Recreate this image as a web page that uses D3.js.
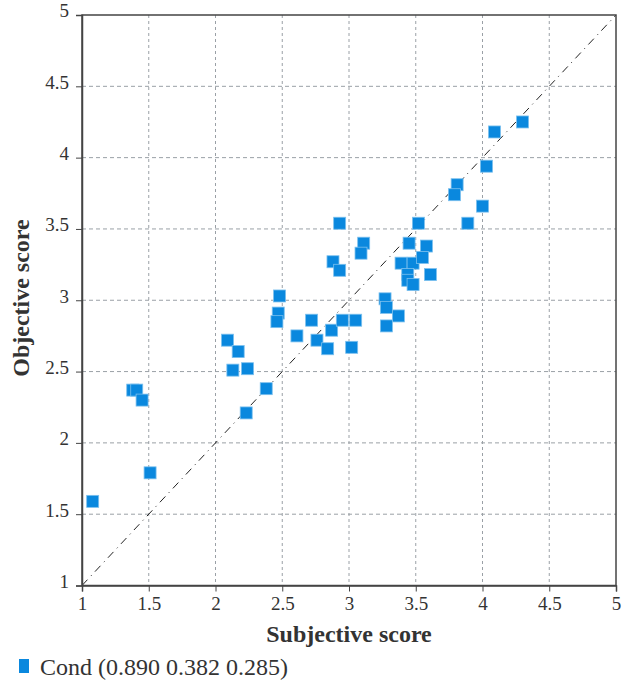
<!DOCTYPE html>
<html>
<head>
<meta charset="utf-8">
<script src="https://cdnjs.cloudflare.com/ajax/libs/d3/7.8.5/d3.min.js"></script>
<style>
	body { margin: 0; background: #fff; }
</style>
</head>
<body>
<svg id="chart" width="630" height="684"></svg>
<script>
// subjective (x) and objective (y) scores
const subjective = [
	1.08, 1.38, 1.41, 1.45, 1.51,
	2.09, 2.17, 2.13, 2.24, 2.38, 2.23,
	2.48, 2.47, 2.46, 2.61, 2.72, 2.76, 2.87, 2.84, 2.95, 3.05, 3.02,
	2.93, 3.11, 3.09, 2.88, 2.93,
	3.52, 3.45, 3.58, 3.39, 3.48, 3.55, 3.44, 3.44, 3.48, 3.61,
	3.27, 3.28, 3.37, 3.28,
	4.30, 4.09, 4.03, 3.81, 3.79, 4.00, 3.89
]
const objective = [
	1.59, 2.37, 2.37, 2.30, 1.79,
	2.72, 2.64, 2.51, 2.52, 2.38, 2.21,
	3.03, 2.91, 2.85, 2.75, 2.86, 2.72, 2.79, 2.66, 2.86, 2.86, 2.67,
	3.54, 3.40, 3.33, 3.27, 3.21,
	3.54, 3.40, 3.38, 3.26, 3.26, 3.30, 3.18, 3.14, 3.11, 3.18,
	3.01, 2.95, 2.89, 2.82,
	4.25, 4.18, 3.94, 3.81, 3.74, 3.66, 3.54
]
const ticks = [1, 1.5, 2, 2.5, 3, 3.5, 4, 4.5, 5]
const legendLabel = 'Cond (0.890 0.382 0.285)'

const blue = '#0a88de'
const serif = "'Liberation Serif', 'DejaVu Serif', serif"

const svg = d3.select('#chart')
const m = { left: 82, right: 616, top: 15, bottom: 585.5 }

const x = d3.scaleLinear().domain([1, 5]).range([m.left, m.right])
const y = d3.scaleLinear().domain([1, 5]).range([m.bottom, m.top])

// grid
const grid = svg.append('g')
grid.selectAll('line.v')
	.data(ticks.slice(1, -1))
	.enter()
	.append('line')
	.attr('x1', d => x(d)).attr('x2', d => x(d))
	.attr('y1', m.top).attr('y2', m.bottom)
	.attr('stroke', '#9aa0a6')
	.attr('stroke-dasharray', '3,3')
grid.selectAll('line.h')
	.data(ticks.slice(1, -1))
	.enter()
	.append('line')
	.attr('x1', m.left).attr('x2', m.right)
	.attr('y1', d => y(d)).attr('y2', d => y(d))
	.attr('stroke', '#9aa0a6')
	.attr('stroke-dasharray', '4,3')

// diagonal y = x
svg.append('line')
	.attr('x1', x(1)).attr('y1', y(1))
	.attr('x2', x(5)).attr('y2', y(5))
	.attr('stroke', '#222')
	.attr('stroke-width', 1)
	.attr('stroke-dasharray', '8,5,1,5')

// points
const pts = subjective.map((d, i) => ({ x: d, y: objective[i] }))
const size = 12
svg.append('g')
	.selectAll('rect')
	.data(pts)
	.enter()
	.append('rect')
	.attr('x', d => x(d.x) - size / 2)
	.attr('y', d => y(d.y) - size / 2)
	.attr('width', size)
	.attr('height', size)
	.attr('fill', blue)
	.attr('stroke', '#7cc0ee')
	.attr('stroke-width', 0.8)

// frame
svg.append('rect')
	.attr('x', m.left).attr('y', m.top)
	.attr('width', m.right - m.left).attr('height', m.bottom - m.top)
	.attr('fill', 'none')
	.attr('stroke', '#444')
	.attr('stroke-width', 1.5)

const fmt = d => String(d)

svg.append('g')
	.attr('transform', `translate(0,${m.bottom})`)
	.call(d3.axisBottom(x).tickValues(ticks).tickFormat(fmt).tickSize(6).tickPadding(5))
	.attr('font-family', serif)
	.attr('font-size', 19)
	.call(g => g.select('.domain').attr('stroke', '#444').attr('stroke-width', 1.5))
	.call(g => g.selectAll('.tick line').attr('stroke', '#444'))
	.call(g => g.selectAll('.tick text').attr('fill', '#333'))

svg.append('g')
	.attr('transform', `translate(${m.left},0)`)
	.call(d3.axisLeft(y).tickValues(ticks).tickFormat(fmt).tickSize(6).tickPadding(7))
	.attr('font-family', serif)
	.attr('font-size', 19)
	.call(g => g.select('.domain').attr('stroke', '#444').attr('stroke-width', 1.5))
	.call(g => g.selectAll('.tick line').attr('stroke', '#444'))
	.call(g => g.selectAll('.tick text').attr('fill', '#333').attr('dy', '0.1em'))

// axis titles
svg.append('text')
	.attr('x', 349)
	.attr('y', 642)
	.attr('text-anchor', 'middle')
	.attr('font-family', serif)
	.attr('font-size', 24)
	.attr('font-weight', 'bold')
	.attr('fill', '#333')
	.text('Subjective score')

svg.append('text')
	.attr('transform', `translate(29,298) rotate(-90)`)
	.attr('text-anchor', 'middle')
	.attr('font-family', serif)
	.attr('font-size', 24)
	.attr('font-weight', 'bold')
	.attr('fill', '#333')
	.text('Objective score')

// legend
const legend = svg.append('g').attr('transform', 'translate(19,659)')
legend.append('rect')
	.attr('width', 10).attr('height', 14)
	.attr('fill', blue)
legend.append('text')
	.attr('x', 21).attr('y', 16)
	.attr('font-family', serif)
	.attr('font-size', 24)
	.attr('fill', '#333')
	.text(legendLabel)
</script>
</body>
</html>
